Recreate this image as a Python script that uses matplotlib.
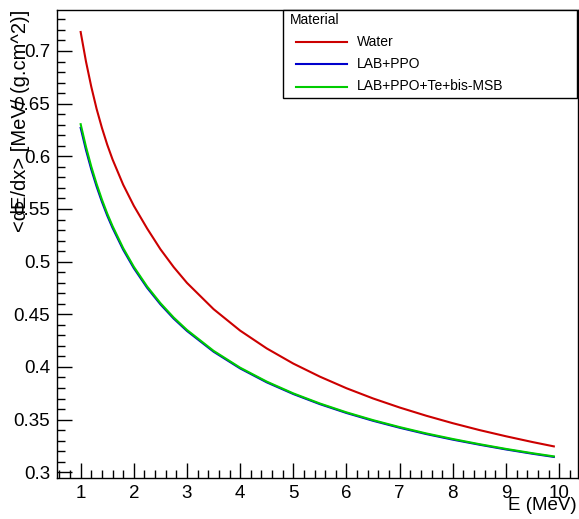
import matplotlib
matplotlib.use('Agg')
import matplotlib.pyplot as plt
from matplotlib.lines import Line2D
from matplotlib.patches import Rectangle
from matplotlib.ticker import MultipleLocator, FormatStrFormatter

plt.rcParams['font.family'] = ['Liberation Sans', 'DejaVu Sans']

# values
energy = [1.0, 1.1, 1.2, 1.3, 1.4, 1.5, 1.6, 1.8, 2.0, 2.25, 2.5, 2.75, 3.0, 3.5,
          4.0, 4.5, 5.0, 5.5, 6.0, 6.5, 7.0, 7.5, 8.0, 8.5, 9.0, 9.5, 9.9]
dedx_water = [0.718, 0.690, 0.666, 0.645, 0.627, 0.611, 0.597, 0.573, 0.553, 0.5315,
              0.5118, 0.4948, 0.4798, 0.4549, 0.4345, 0.4176, 0.4032, 0.3908, 0.3798,
              0.3701, 0.3615, 0.3537, 0.3466, 0.3401, 0.3342, 0.3287, 0.3246]
dedx_lab = [0.6270, 0.6060, 0.5875, 0.5713, 0.5568, 0.5437, 0.5320, 0.5113, 0.4938,
            0.4752, 0.4595, 0.4459, 0.4342, 0.4145, 0.3986, 0.3854, 0.3743, 0.3647,
            0.3563, 0.3489, 0.3423, 0.3363, 0.3310, 0.3262, 0.3217, 0.3176, 0.3146]
dedx_lab_te = [0.6305, 0.6090, 0.5902, 0.5737, 0.5589, 0.5456, 0.5337, 0.5128, 0.4951,
               0.4764, 0.4606, 0.4469, 0.4351, 0.4153, 0.3993, 0.3861, 0.3749, 0.3653,
               0.3569, 0.3495, 0.3429, 0.3369, 0.3316, 0.3267, 0.3222, 0.3181, 0.3151]

W, H = 579, 519
fig = plt.figure(figsize=(W / 100, H / 100), dpi=100)
ax = fig.add_axes([57 / W, (H - 478.3) / H, (577.5 - 57) / W, (478.3 - 10) / H])

ax.plot(energy, dedx_water, color='#cc0000', lw=1.5)
ax.plot(energy, dedx_lab, color='#0000cc', lw=1.5)
ax.plot(energy, dedx_lab_te, color='#00cc00', lw=1.5)

ax.set_xlim(0.555, 10.345)
ax.set_ylim(0.2943, 0.7389)

ax.xaxis.set_major_locator(MultipleLocator(1))
ax.xaxis.set_minor_locator(MultipleLocator(0.2))
ax.yaxis.set_major_locator(MultipleLocator(0.05))
ax.yaxis.set_minor_locator(MultipleLocator(0.01))
ax.yaxis.set_major_formatter(FormatStrFormatter('%g'))
ax.tick_params(which='both', direction='in', top=False, right=False, labelsize=13.5)
ax.tick_params(which='major', length=11, width=1)
ax.tick_params(which='minor', length=5.5, width=1)
ax.tick_params(axis='x', pad=5)
ax.tick_params(axis='y', pad=5)
for s in ax.spines.values():
    s.set_linewidth(1)

fig.text(577 / W, 1 - 505 / H, 'E (MeV)', ha='right', va='center', fontsize=13.5)
fig.text(21 / W, 1 - 10 / H, '<dE/dx> [MeV/ (g.cm^2)]', rotation=90,
         ha='center', va='top', fontsize=14.5)

# legend box
fig.patches.append(Rectangle((283 / W, 1 - 98 / H), (577 - 283) / W, (98 - 10) / H,
                             transform=fig.transFigure, facecolor='white',
                             edgecolor='black', lw=1, zorder=5))
fig.text(290 / W, 1 - 20 / H, 'Material', ha='left', va='center', fontsize=10, zorder=6)
labels = ['Water', 'LAB+PPO', 'LAB+PPO+Te+bis-MSB']
colors = ['#cc0000', '#0000cc', '#00cc00']
rows = [42.3, 64.3, 86.5]
for lab, c, r in zip(labels, colors, rows):
    fig.lines.append(Line2D([296 / W, 347 / W], [1 - r / H, 1 - r / H],
                            transform=fig.transFigure, color=c, lw=1.5, zorder=6))
    fig.text(357 / W, 1 - r / H, lab, ha='left', va='center', fontsize=10, zorder=6)

fig.savefig('out.png', dpi=100)
